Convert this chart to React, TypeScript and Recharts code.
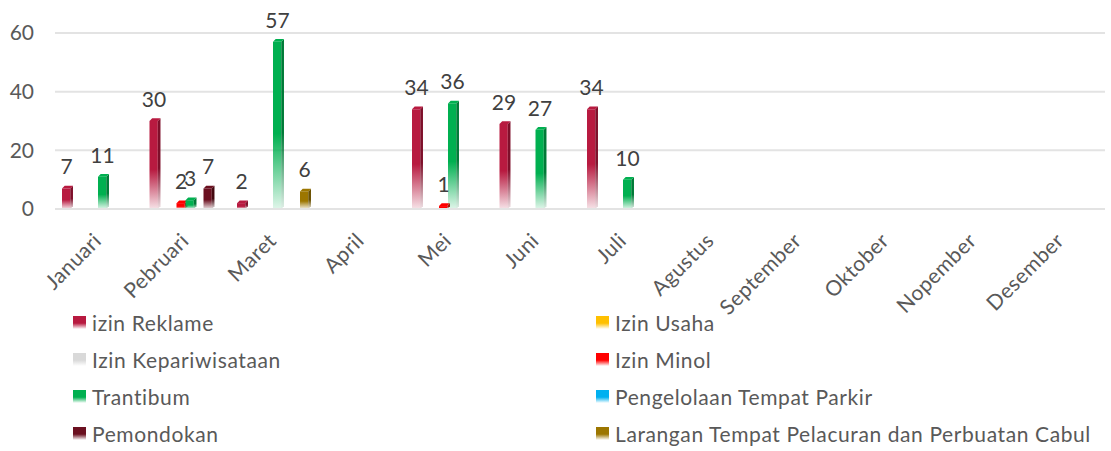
import React from 'react'
import { BarChart, Bar, XAxis, YAxis, CartesianGrid, LabelList } from 'recharts'

const months = [
  'Januari', 'Pebruari', 'Maret', 'April', 'Mei', 'Juni',
  'Juli', 'Agustus', 'September', 'Oktober', 'Nopember', 'Desember',
]

// jumlah per bulan (null = tidak ada data)
const reklame = [7, 30, 2, null, 34, 29, 34, null, null, null, null, null]
const usaha = [null, null, null, null, null, null, null, null, null, null, null, null]
const kepariwisataan = [null, null, null, null, null, null, null, null, null, null, null, null]
const minol = [null, 2, null, null, 1, null, null, null, null, null, null, null]
const trantibum = [11, 3, 57, null, 36, 27, 10, null, null, null, null, null]
const parkir = [null, null, null, null, null, null, null, null, null, null, null, null]
const pemondokan = [null, 7, null, null, null, null, null, null, null, null, null, null]
const larangan = [null, null, 6, null, null, null, null, null, null, null, null, null]

const yTicks = [0, 20, 40, 60]

const series = [
  { key: 'reklame', name: 'izin Reklame', color: '#B81A40', side: '#7e0f2a', values: reklame },
  { key: 'usaha', name: 'Izin Usaha', color: '#FFC000', side: '#c79500', values: usaha },
  { key: 'kepariwisataan', name: 'Izin Kepariwisataan', color: '#D9D9D9', side: '#a6a6a6', values: kepariwisataan },
  { key: 'minol', name: 'Izin Minol', color: '#FF0000', side: '#b80000', values: minol },
  { key: 'trantibum', name: 'Trantibum', color: '#00B050', side: '#007a37', values: trantibum },
  { key: 'parkir', name: 'Pengelolaan Tempat Parkir', color: '#00B0F0', side: '#0080b0', values: parkir },
  { key: 'pemondokan', name: 'Pemondokan', color: '#6B1020', side: '#440810', values: pemondokan },
  { key: 'larangan', name: 'Larangan Tempat Pelacuran dan Perbuatan Cabul', color: '#9C7600', side: '#6a5000', values: larangan },
]

const data = months.map((m, i) => {
  const row: any = { month: m }
  series.forEach((s) => { row[s.key] = s.values[i] })
  return row
})

const FONT = 'Lato, "Open Sans", sans-serif'

function Bar3D(props: any) {
  const { x, y, width, height, si } = props
  if (height == null || height <= 0) return null
  const s = series[si]
  const fw = width * 0.92
  const d = width * 0.3
  return (
    <g>
      <rect x={x} y={y} width={fw} height={height} fill={`url(#front-${si})`} />
      <polygon
        points={`${x + fw},${y} ${x + fw + d},${y - d} ${x + fw + d},${y + height - d} ${x + fw},${y + height}`}
        fill={`url(#side-${si})`}
      />
      <polygon
        points={`${x},${y} ${x + d},${y - d} ${x + fw + d},${y - d} ${x + fw},${y}`}
        fill={s.color}
      />
    </g>
  )
}

function XTick(props: any) {
  const { x, y, payload } = props
  return (
    <g transform={`translate(${x + 4},${y + 25})`}>
      <text
        textAnchor="end"
        transform="rotate(-45)"
        fontSize={21}
        letterSpacing={0.5}
        fill="#595959"
        fontFamily={FONT}
      >
        {payload.value}
      </text>
    </g>
  )
}

function LegendBox() {
  return (
    <div style={{ position: 'absolute', left: 0, top: 0, width: 1111, height: 451, pointerEvents: 'none' }}>
      {series.map((s, i) => {
        const col = i % 2
        const row = Math.floor(i / 2)
        const left = col === 0 ? 73 : 596
        const top = 310 + row * 37
        return (
          <div
            key={s.key}
            style={{
              position: 'absolute', left, top, height: 24, display: 'flex', alignItems: 'center',
              fontFamily: FONT, fontSize: 21, letterSpacing: '0.6px', color: '#595959', whiteSpace: 'nowrap',
            }}
          >
            <span
              style={{
                display: 'inline-block', width: 13, height: 13, marginRight: 6,
                background: `linear-gradient(to bottom, ${s.color} 0%, ${s.color} 55%, #ffffff 100%)`,
              }}
            />
            {s.name}
          </div>
        )
      })}
    </div>
  )
}

export default function App() {
  return (
    <div style={{ position: 'absolute', left: 0, top: 0, width: 1111, height: 451, background: '#fff' }}>
      <BarChart
        width={1111}
        height={451}
        data={data}
        margin={{ top: 33, right: 6, left: 0, bottom: 0 }}
        barCategoryGap="8%"
        barGap={0}
      >
        <defs>
          {series.map((s, i) => (
            <linearGradient key={`f${i}`} id={`front-${i}`} x1="0" y1="0" x2="0" y2="1">
              <stop offset="0%" stopColor={s.color} />
              <stop offset="55%" stopColor={s.color} />
              <stop offset="100%" stopColor={s.color} stopOpacity={0.12} />
            </linearGradient>
          ))}
          {series.map((s, i) => (
            <linearGradient key={`s${i}`} id={`side-${i}`} x1="0" y1="0" x2="0" y2="1">
              <stop offset="0%" stopColor={s.side} />
              <stop offset="55%" stopColor={s.side} />
              <stop offset="100%" stopColor={s.side} stopOpacity={0.12} />
            </linearGradient>
          ))}
        </defs>
        <CartesianGrid vertical={false} stroke="#e3e3e3" strokeWidth={2} />
        <XAxis
          dataKey="month"
          interval={0}
          height={242}
          tickLine={false}
          axisLine={{ stroke: '#e3e3e3', strokeWidth: 2 }}
          tick={<XTick />}
        />
        <YAxis
          width={55}
          domain={[0, 60]}
          ticks={yTicks}
          axisLine={false}
          tickLine={false}
          tickMargin={15}
          tick={{ fontSize: 21, fill: '#595959', fontFamily: FONT }}
        />
        {series.map((s, i) => (
          <Bar
            key={s.key}
            dataKey={s.key}
            name={s.name}
            fill={s.color}
            isAnimationActive={false}
            shape={(p: any) => <Bar3D {...p} si={i} />}
          >
            <LabelList
              dataKey={s.key}
              position="top"
              offset={14}
              style={{ fontSize: 21, fill: '#404040', fontFamily: FONT }}
            />
          </Bar>
        ))}
      </BarChart>
      <LegendBox />
    </div>
  )
}
